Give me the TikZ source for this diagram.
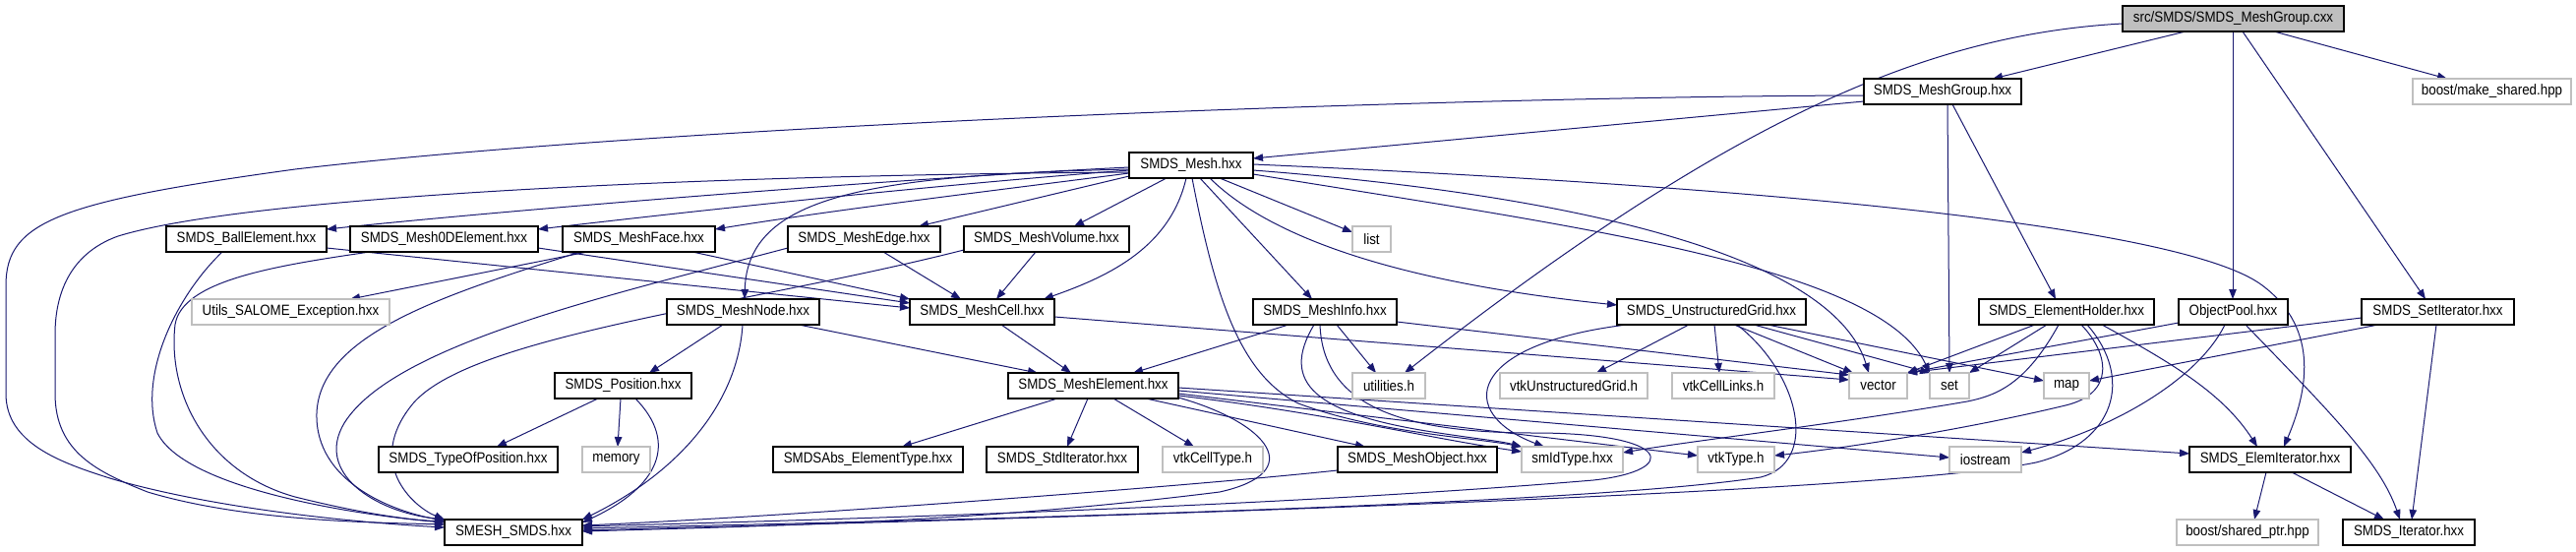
\documentclass[tikz,border=0pt]{standalone}
\usepackage{fontspec}
\setmainfont{Liberation Sans}[FakeStretch=0.89]
\usetikzlibrary{arrows.meta}
\definecolor{edgeblue}{HTML}{191970}
\definecolor{extgray}{HTML}{BFBFBF}
\newcommand\gfont{\fontsize{15}{17}\selectfont}
\pgfdeclarelayer{back}
\pgfdeclarelayer{bg}
\pgfsetlayers{back,bg,main}
\begin{document}
\begin{tikzpicture}[x=1pt,y=-1pt,
  doc/.style={draw=black, line width=1.3pt, fill=white, inner sep=0pt, outer sep=0pt, minimum height=26pt, font=\gfont, text=black},
  ext/.style={doc, draw=extgray},
  root/.style={doc, fill=extgray},
  dep/.style={draw=edgeblue, line width=1pt, -{Triangle[length=10pt,width=7.5pt]}}]
\begin{pgfonlayer}{back}
\fill[white] (0,0) rectangle (2619,560);
\end{pgfonlayer}
\useasboundingbox (0,0) rectangle (2619,560);
% row 0
\node[root, minimum width=225pt] (src) at (2270.5,19) {src/SMDS/SMDS\_MeshGroup.cxx};
% row 1
\node[doc, minimum width=160pt] (mgh) at (1975,93) {SMDS\_MeshGroup.hxx};
\node[ext, minimum width=161pt] (boostms) at (2533.5,93) {boost/make\_shared.hpp};
% row 2
\node[doc, minimum width=126pt] (mesh) at (1211,168) {SMDS\_Mesh.hxx};
% row 3
\node[doc, minimum width=163pt] (ball) at (250.5,243) {SMDS\_BallElement.hxx};
\node[doc, minimum width=191pt] (zeroD) at (451.5,243) {SMDS\_Mesh0DElement.hxx};
\node[doc, minimum width=155pt] (face) at (649.5,243) {SMDS\_MeshFace.hxx};
\node[doc, minimum width=155pt] (edge) at (878.5,243) {SMDS\_MeshEdge.hxx};
\node[doc, minimum width=168pt] (volume) at (1064,243) {SMDS\_MeshVolume.hxx};
\node[ext, minimum width=39pt] (list) at (1394.5,243) {list};
% row 4
\node[ext, minimum width=201pt] (utils) at (295.5,317) {Utils\_SALOME\_Exception.hxx};
\node[doc, minimum width=155pt] (node) at (755.5,317) {SMDS\_MeshNode.hxx};
\node[doc, minimum width=147pt] (cell) at (998.5,317) {SMDS\_MeshCell.hxx};
\node[doc, minimum width=146pt] (info) at (1347,317) {SMDS\_MeshInfo.hxx};
\node[doc, minimum width=192pt] (ugrid) at (1740,317) {SMDS\_UnstructuredGrid.hxx};
\node[doc, minimum width=178pt] (holder) at (2101,317) {SMDS\_ElementHolder.hxx};
\node[doc, minimum width=111pt] (pool) at (2270.5,317) {ObjectPool.hxx};
\node[doc, minimum width=155pt] (setit) at (2478.5,317) {SMDS\_SetIterator.hxx};
% row 5
\node[doc, minimum width=139pt] (position) at (633.5,392) {SMDS\_Position.hxx};
\node[doc, minimum width=173pt] (element) at (1111.5,392) {SMDS\_MeshElement.hxx};
\node[ext, minimum width=74pt] (utilities) at (1412,392) {utilities.h};
\node[ext, minimum width=150pt] (vtkug) at (1600,392) {vtkUnstructuredGrid.h};
\node[ext, minimum width=104pt] (vtkcl) at (1752,392) {vtkCellLinks.h};
\node[ext, minimum width=59pt] (vector) at (1909.5,392) {vector};
\node[ext, minimum width=40pt] (set) at (1982,392) {set};
\node[ext, minimum width=46pt] (map) at (2101,392) {map};
% row 6
\node[doc, minimum width=182pt] (typeofpos) at (476,467) {SMDS\_TypeOfPosition.hxx};
\node[ext, minimum width=69pt] (memory) at (626.5,467) {memory};
\node[doc, minimum width=193pt] (abs) at (882.5,467) {SMDSAbs\_ElementType.hxx};
\node[doc, minimum width=154pt] (stditer) at (1080,467) {SMDS\_StdIterator.hxx};
\node[ext, minimum width=102pt] (vtkct) at (1233,467) {vtkCellType.h};
\node[doc, minimum width=162pt] (meshobj) at (1441,467) {SMDS\_MeshObject.hxx};
\node[ext, minimum width=103pt] (smid) at (1598.5,467) {smIdType.hxx};
\node[ext, minimum width=78pt] (vtktype) at (1765,467) {vtkType.h};
\node[ext, minimum width=73pt] (iostream) at (2018.5,467) {iostream};
\node[doc, minimum width=164pt] (elemit) at (2308,467) {SMDS\_ElemIterator.hxx};
% row 7
\node[doc, minimum width=140pt] (smesh) at (522,541) {SMESH\_SMDS.hxx};
\node[ext, minimum width=144pt] (boostsp) at (2285,541) {boost/shared\_ptr.hpp};
\node[doc, minimum width=134pt] (iter) at (2449,541) {SMDS\_Iterator.hxx};

\begin{pgfonlayer}{bg}
% src
\draw[dep] (src.south -| 2222,0) -- (mgh.north -| 2026,0);
\draw[dep] (src.south -| 2312,0) -- (boostms.north -| 2488,0);
\draw[dep] (src.south -| 2270,0) -- (pool.north -| 2270,0);
\draw[dep] (src.south -| 2280,0) -- (setit.north -| 2466,0);
\draw[dep] (src.west |- 0,24) .. controls (1960,35) and (1760,120) .. (utilities.north -| 1428,0);
% MeshGroup.hxx
\draw[dep] (mgh.west |- 0,103) -- (mesh.east |- 0,161);
\draw[dep] (mgh.west |- 0,97) .. controls (1500,98) and (700,125) .. (300,172) .. controls (60,205) and (6,225) .. (6,290) -- (6,400) .. controls (6,450) and (60,470) .. (115,487) .. controls (230,520) and (380,532) .. (smesh.west |- 0,536);
\draw[dep] (mgh.south -| 1980,0) -- (set.north -| 1982,0);
\draw[dep] (mgh.south -| 1985,0) -- (holder.north -| 2090,0);
% Mesh.hxx
\draw[dep] (mesh.west |- 0,170) .. controls (900,182) and (500,215) .. (ball.east |- 0,233);
\draw[dep] (mesh.west |- 0,173) .. controls (950,188) and (700,215) .. (zeroD.east |- 0,233);
\draw[dep] (mesh.west |- 0,176) .. controls (1000,195) and (850,213) .. (face.east |- 0,233);
\draw[dep] (mesh.west |- 0,179) -- (edge.north -| 934,0);
\draw[dep] (mesh.south -| 1186,0) -- (volume.north -| 1092,0);
\draw[dep] (mesh.west |- 0,172) .. controls (880,178) and (760,200) .. (node.north -| 757,0);
\draw[dep] (mesh.south -| 1206,0) .. controls (1190,250) and (1130,280) .. (cell.north -| 1061,0);
\draw[dep] (mesh.south -| 1240,0) -- (list.west |- 0,236);
\draw[dep] (mesh.south -| 1220,0) -- (info.north -| 1334,0);
\draw[dep] (mesh.south -| 1230,0) .. controls (1300,250) and (1450,290) .. (ugrid.west |- 0,310);
\draw[dep] (mesh.south -| 1212,0) .. controls (1235,300) and (1260,380) .. (1320,410) .. controls (1400,440) and (1500,445) .. (smid.north west);
\draw[dep] (mesh.east |- 0,173) .. controls (1560,195) and (1860,250) .. (vector.north -| 1900,0);
\draw[dep] (mesh.east |- 0,177) .. controls (1600,230) and (1910,270) .. (set.north west);
\draw[dep] (mesh.east |- 0,167) .. controls (1800,190) and (2220,230) .. (2300,290) .. controls (2360,335) and (2345,400) .. (elemit.north -| 2322,0);
\draw[dep] (mesh.west |- 0,175) .. controls (700,178) and (250,200) .. (120,240) .. controls (70,258) and (56,300) .. (56,340) -- (56,400) .. controls (56,460) and (100,480) .. (150,500) .. controls (250,530) and (380,531) .. (smesh.west |- 0,533);
% row 3 headers
\draw[dep] (ball.east |- 0,252) -- (cell.west |- 0,313);
\draw[dep] (ball.south -| 226,0) .. controls (180,300) and (140,380) .. (160,440) .. controls (190,500) and (380,525) .. (smesh.west |- 0,531);
\draw[dep] (zeroD.east |- 0,252) -- (cell.west |- 0,308);
\draw[dep] (zeroD.south -| 376,0) .. controls (280,270) and (185,285) .. (178,330) .. controls (170,400) and (210,480) .. (300,505) .. controls (360,520) and (410,528) .. (smesh.west |- 0,530);
\draw[dep] (face.south -| 704,0) -- (cell.north west);
\draw[dep] (face.south -| 597,0) -- (utils.north -| 356,0);
\draw[dep] (face.south -| 590,0) .. controls (450,300) and (325,340) .. (322,420) .. controls (320,490) and (400,520) .. (smesh.west |- 0,529);
\draw[dep] (edge.south -| 898,0) -- (cell.north -| 977,0);
\draw[dep] (edge.west |- 0,252) .. controls (620,300) and (400,350) .. (350,430) .. controls (320,480) and (380,520) .. (smesh.west |- 0,528);
\draw[dep] (volume.south -| 1053,0) -- (cell.north -| 1013,0);
\draw[dep] (volume.west |- 0,254) .. controls (760,310) and (480,340) .. (420,410) .. controls (370,470) and (420,515) .. (smesh.north west);
% MeshNode, Position
\draw[dep] (node.south -| 735,0) -- (position.north -| 660,0);
\draw[dep] (node.south -| 755,0) .. controls (750,410) and (690,480) .. (smesh.north east);
\draw[dep] (node.south -| 812,0) -- (element.north -| 1055,0);
\draw[dep] (position.south -| 608,0) -- (typeofpos.north -| 505,0);
\draw[dep] (position.south -| 631,0) -- (memory.north -| 628,0);
\draw[dep] (position.south -| 646,0) .. controls (690,450) and (670,495) .. (smesh.east |- 0,531);
% MeshCell, MeshInfo
\draw[dep] (cell.south -| 1018,0) -- (element.north -| 1089,0);
\draw[dep] (cell.east |- 0,322) -- (vector.west |- 0,386);
\draw[dep] (info.south -| 1310,0) -- (element.north -| 1152,0);
\draw[dep] (info.south -| 1359,0) -- (utilities.north -| 1399,0);
\draw[dep] (info.south -| 1336,0) .. controls (1300,390) and (1340,420) .. (1450,438) .. controls (1500,446) and (1525,448) .. (smid.north west);
\draw[dep] (info.east |- 0,327) -- (vector.west |- 0,381);
\draw[dep] (info.south -| 1342,0) .. controls (1345,410) and (1420,440) .. (1560,440) .. controls (1700,440) and (1710,478) .. (1620,488) .. controls (1300,515) and (850,528) .. (smesh.east |- 0,535);
% UnstructuredGrid
\draw[dep] (ugrid.south -| 1717,0) -- (vtkug.north -| 1623,0);
\draw[dep] (ugrid.south -| 1743,0) -- (vtkcl.north -| 1748,0);
\draw[dep] (ugrid.south -| 1763,0) -- (vector.north -| 1884,0);
\draw[dep] (ugrid.south -| 1783,0) -- (set.north west);
\draw[dep] (ugrid.south -| 1797,0) -- (map.west |- 0,387);
\draw[dep] (ugrid.south -| 1766,0) .. controls (1830,380) and (1850,470) .. (1790,485) .. controls (1600,515) and (900,530) .. (smesh.east |- 0,537);
\draw[dep] (ugrid.south -| 1654,0) .. controls (1490,350) and (1480,420) .. (smid.north -| 1570,0);
% ElementHolder
\draw[dep] (holder.south -| 2069,0) -- (vector.north east);
\draw[dep] (holder.south -| 2081,0) -- (set.north east);
\draw[dep] (holder.south -| 2093,0) .. controls (2060,390) and (2030,402) .. (2000,408) .. controls (1860,432) and (1720,448) .. (smid.east |- 0,460);
\draw[dep] (holder.south -| 2116,0) .. controls (2145,360) and (2150,400) .. (2100,412) .. controls (2000,436) and (1880,455) .. (vtktype.east |- 0,463);
\draw[dep] (holder.south -| 2122,0) .. controls (2170,385) and (2150,450) .. (2070,470) .. controls (1900,505) and (900,531) .. (smesh.east |- 0,539);
\draw[dep] (holder.south -| 2137,0) .. controls (2210,370) and (2260,400) .. (elemit.north -| 2295,0);
% ObjectPool, SetIterator
\draw[dep] (pool.west |- 0,328) -- (vector.north east);
\draw[dep] (pool.south -| 2262,0) .. controls (2235,385) and (2150,435) .. (iostream.east |- 0,460);
\draw[dep] (pool.south -| 2283,0) .. controls (2370,420) and (2420,470) .. (iter.north -| 2440,0);
\draw[dep] (setit.west |- 0,323) -- (vector.north east);
\draw[dep] (setit.south -| 2418,0) -- (map.east |- 0,387);
\draw[dep] (setit.south -| 2477,0) -- (iter.north -| 2452,0);
% ElemIterator
\draw[dep] (elemit.south -| 2304,0) -- (boostsp.north -| 2292,0);
\draw[dep] (elemit.south -| 2330,0) -- (iter.north -| 2424,0);
% MeshElement
\draw[dep] (element.south -| 1075,0) -- (abs.north -| 917,0);
\draw[dep] (element.south -| 1106,0) -- (stditer.north -| 1085,0);
\draw[dep] (element.south -| 1132,0) -- (vtkct.north -| 1214,0);
\draw[dep] (element.south -| 1165,0) -- (meshobj.north -| 1388,0);
\draw[dep] (element.east |- 0,402) .. controls (1350,420) and (1450,445) .. (smid.west |- 0,459);
\draw[dep] (element.east |- 0,400) -- (vtktype.west |- 0,463);
\draw[dep] (element.east |- 0,397) -- (iostream.west |- 0,465);
\draw[dep] (element.east |- 0,394) -- (elemit.west |- 0,461);
\draw[dep] (element.east |- 0,404) .. controls (1290,430) and (1330,480) .. (1240,500) .. controls (1000,530) and (800,534) .. (smesh.east |- 0,540);
% MeshObject
\draw[dep] (meshobj.west |- 0,478) .. controls (1200,495) and (800,525) .. (smesh.east |- 0,534);
\end{pgfonlayer}
\end{tikzpicture}
\end{document}
